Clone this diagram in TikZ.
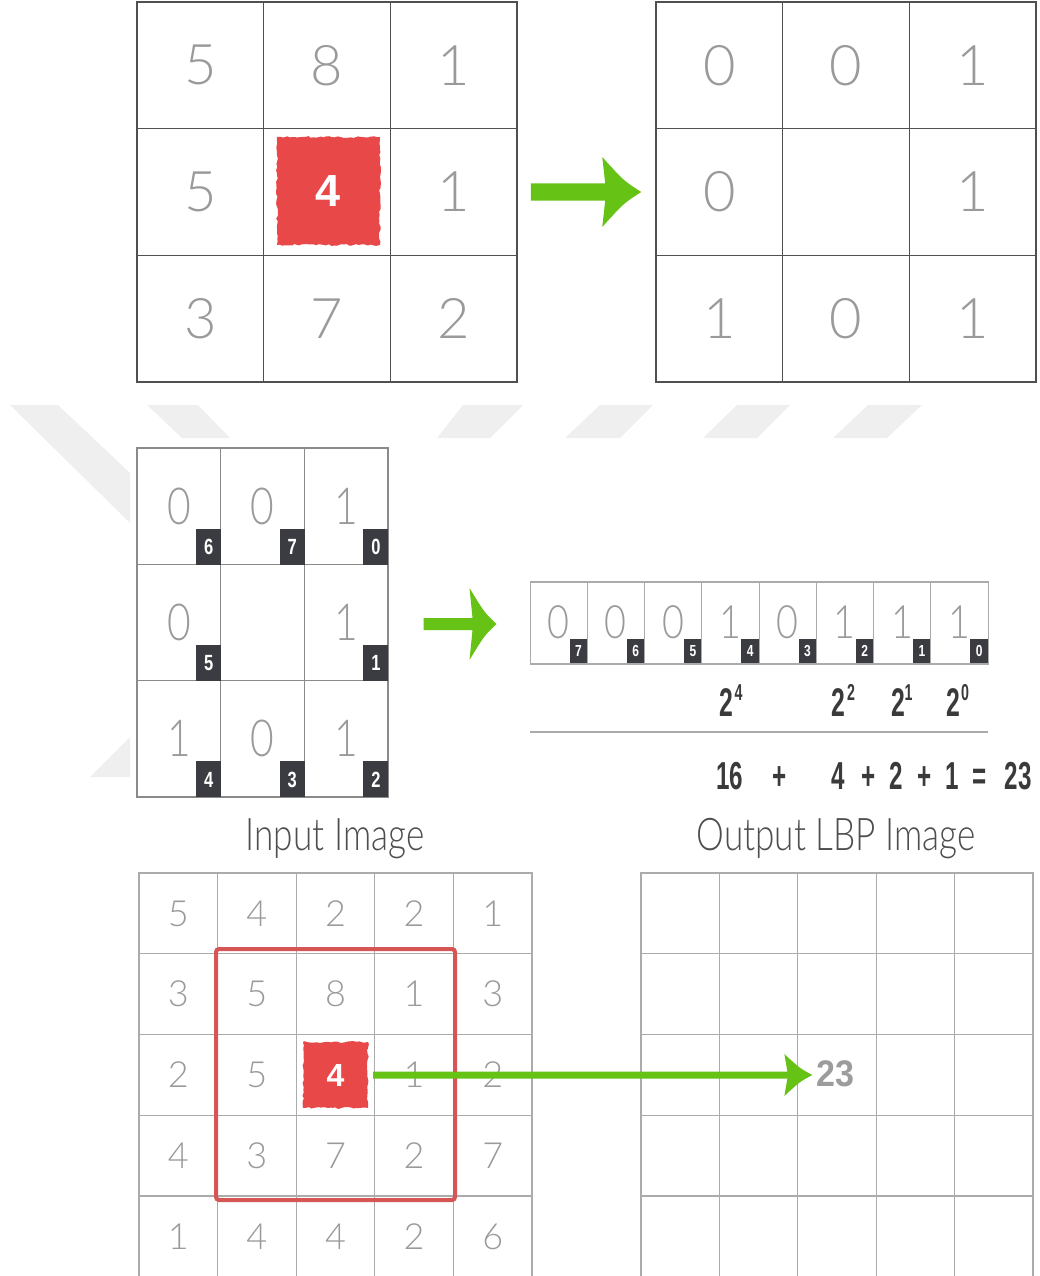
\documentclass[tikz,border=0pt]{standalone}
\usepackage{fontspec}
\setmainfont{Liberation Sans}
\IfFontExistsTF{Lato Light}{\newfontfamily\lightf{Lato Light}}{\newfontfamily\lightf{Liberation Sans}}
\usetikzlibrary{calc,decorations.pathmorphing}
\definecolor{wm}{HTML}{EFEFEF}
\definecolor{digit}{HTML}{9A9A9A}
\definecolor{gridA}{HTML}{505050}
\definecolor{gridB}{HTML}{8A8A8A}
\definecolor{gridC}{HTML}{ABABAB}
\definecolor{badgebg}{HTML}{3B3B42}
\definecolor{lbpgreen}{HTML}{66C214}
\definecolor{blotch}{HTML}{E84848}
\definecolor{framered}{HTML}{D65555}
\definecolor{darktxt}{HTML}{3A3A3A}
\definecolor{labeltxt}{HTML}{4E4E4E}
\definecolor{resgray}{HTML}{9C9C9C}
\newcommand\fs[1]{\fontsize{#1}{#1}\selectfont}
\newcommand\sx[2]{\scalebox{#1}[1]{#2}}
% green arrow: #1 start, #2 tip, #3 shaft half width, #4 head length, #5 head half width
\newcommand\garrow[5]{%
  \fill[lbpgreen]
    ($(#1)+(0,-#3)$) -- ($(#2)+(-#4+3,-#3)$) -- ($(#2)+(-#4,-#5)$)
    .. controls ($(#2)+(-0.45*#4,-0.32*#5)$) .. (#2)
    .. controls ($(#2)+(-0.45*#4,0.32*#5)$) .. ($(#2)+(-#4,#5)$)
    -- ($(#2)+(-#4+3,#3)$) -- ($(#1)+(0,#3)$) -- cycle;}
\tikzset{
  bigcell/.style={draw=gridA, line width=1.5pt, minimum width=126.67pt, minimum height=126.67pt,
    inner sep=0pt, text=digit, font={\lightf\fs{56}}},
  midcell/.style={draw=gridB, line width=1.3pt, minimum width=83.67pt, minimum height=116.33pt,
    inner sep=0pt, text=digit, font={\lightf\fs{51}}},
  bincell/.style={draw=gridC, line width=1pt, minimum width=57.25pt, minimum height=81pt,
    inner sep=0pt, text=digit, font={\lightf\fs{46}}},
  smallcell/.style={draw=gridC, line width=1.2pt, minimum width=78.6pt, minimum height=80.75pt,
    inner sep=0pt, text=digit, font={\lightf\fs{36}}},
  outcell/.style={draw=gridC, line width=1.2pt, minimum width=78.4pt, minimum height=80.75pt, inner sep=0pt},
  midbadge/.style={anchor=south east, fill=badgebg, text=white, inner sep=0pt,
    minimum width=25pt, minimum height=36pt, font={\fs{22}\bfseries}},
  binbadge/.style={anchor=south east, fill=badgebg, text=white, inner sep=0pt,
    minimum width=18pt, minimum height=24pt, font={\fs{16}\bfseries}},
  blotchsq/.style={fill=blotch, text=white, inner sep=0pt, decorate,
    decoration={random steps, segment length=3pt, amplitude=1pt}},
  powtxt/.style={anchor=base, text=darktxt, inner sep=0pt},
  captxt/.style={anchor=base, text=labeltxt, inner sep=0pt, font={\lightf\fs{45}}},
}
\begin{document}
\begin{tikzpicture}[x=1pt,y=-1pt]
\useasboundingbox (0,0) rectangle (1039,1276);
% watermark
\fill[wm] (10,405) -- (58,405) -- (130,473) -- (130,523) -- cycle;
\fill[wm] (147,405) -- (198,405) -- (230,438) -- (182,438) -- cycle;
\fill[wm] (463,405) -- (523,405) -- (490,438) -- (437,438) -- cycle;
\fill[wm] (600,405) -- (653,405) -- (620,438) -- (565,438) -- cycle;
\fill[wm] (737,405) -- (790,405) -- (757,438) -- (703,438) -- cycle;
\fill[wm] (868,405) -- (922,405) -- (887,438) -- (833,438) -- cycle;
\fill[wm] (90,777) -- (130,737) -- (130,777) -- cycle;

% top-left grid
\foreach \v [count=\k from 0] in {5,8,1,5,{},1,3,7,2}{
  \pgfmathtruncatemacro\r{div(\k,3)}
  \pgfmathtruncatemacro\c{mod(\k,3)}
  \node[bigcell] (tl-\r-\c) at ({200.33+126.67*\c},{65.33+126.67*\r}) {\v};
}
\node[blotchsq, minimum width=103pt, minimum height=108pt, font={\fs{45}\bfseries}] (c1) at (328.5,191) {4};

% top-right grid
\foreach \v [count=\k from 0] in {0,0,1,0,{},1,1,0,1}{
  \pgfmathtruncatemacro\r{div(\k,3)}
  \pgfmathtruncatemacro\c{mod(\k,3)}
  \node[bigcell] (tr-\r-\c) at ({719.33+126.67*\c},{65.33+126.67*\r}) {\v};
}

% middle-left grid
\foreach \v [count=\k from 0] in {0,0,1,0,{},1,1,0,1}{
  \pgfmathtruncatemacro\r{div(\k,3)}
  \pgfmathtruncatemacro\c{mod(\k,3)}
  \node[midcell] (ml-\r-\c) at ({178.83+83.67*\c},{506.17+116.33*\r}) {\sx{0.8}{\v}};
}
\foreach \r/\c/\b in {0/0/6,0/1/7,0/2/0,1/0/5,1/2/1,2/0/4,2/1/3,2/2/2}{
  \node[midbadge] (mb-\r-\c) at (ml-\r-\c.south east) {\sx{0.75}{\b}};
}

% binary row
\foreach \v/\b [count=\k from 0] in {0/7,0/6,0/5,1/4,0/3,1/2,1/1,1/0}{
  \node[bincell] (bin-\k) at ({558.63+57.25*\k},622.5) {\sx{0.82}{\v}};
  \node[binbadge] (bb-\k) at (bin-\k.south east) {\sx{0.75}{\b}};
}
\draw[gridC, line width=2pt] (bin-0.north west) -- (bin-7.north east);
\draw[gridC, line width=2pt] (bin-0.south west) -- (bin-7.south east);

% powers
\node[powtxt, font={\fs{40}\bfseries}] (p4) at (726,716) {\sx{0.62}{2}};
\node[powtxt, font={\fs{23}\bfseries}] (p4e) at (738.5,700) {\sx{0.62}{4}};
\node[powtxt, font={\fs{40}\bfseries}] (p2) at (838.5,716) {\sx{0.62}{2}};
\node[powtxt, font={\fs{23}\bfseries}] (p2e) at (851,700) {\sx{0.62}{2}};
\node[powtxt, font={\fs{40}\bfseries}] (p1) at (898.5,716) {\sx{0.62}{2}};
\node[powtxt, font={\fs{23}\bfseries}] (p1e) at (908.5,700) {\sx{0.62}{1}};
\node[powtxt, font={\fs{40}\bfseries}] (p0) at (953.5,716) {\sx{0.62}{2}};
\node[powtxt, font={\fs{23}\bfseries}] (p0e) at (965,700) {\sx{0.62}{0}};
\draw[gridC, line width=2pt] (530,732) -- (988,732);

% sum
\node[powtxt, font={\fs{39}\bfseries}] (s1) at (729.5,789) {\sx{0.62}{16}};
\node[powtxt, font={\fs{39}\bfseries}] (s2) at (780,789) {\sx{0.62}{+}};
\node[powtxt, font={\fs{39}\bfseries}] (s3) at (838.5,789) {\sx{0.62}{4}};
\node[powtxt, font={\fs{39}\bfseries}] (s4) at (869,789) {\sx{0.62}{+}};
\node[powtxt, font={\fs{39}\bfseries}] (s5) at (896.5,789) {\sx{0.62}{2}};
\node[powtxt, font={\fs{39}\bfseries}] (s6) at (925,789) {\sx{0.62}{+}};
\node[powtxt, font={\fs{39}\bfseries}] (s7) at (952,789) {\sx{0.62}{1}};
\node[powtxt, font={\fs{39}\bfseries}] (s8) at (979.5,789) {\sx{0.62}{=}};
\node[powtxt, font={\fs{39}\bfseries}] (s9) at (1018,789) {\sx{0.62}{23}};

% captions
\node[captxt] (lin) at (335,850) {\sx{0.78}{Input Image}};
\node[captxt] (lout) at (836,850) {\sx{0.78}{Output LBP Image}};

% bottom-left grid
\foreach \v [count=\k from 0] in {5,4,2,2,1,3,5,8,1,3,2,5,{},1,2,4,3,7,2,7,1,4,4,2,6}{
  \pgfmathtruncatemacro\r{div(\k,5)}
  \pgfmathtruncatemacro\c{mod(\k,5)}
  \node[smallcell] (bl-\r-\c) at ({178.3+78.6*\c},{913.4+80.75*\r}) {\v};
}
\node[blotchsq, minimum width=65pt, minimum height=66pt, font={\fs{32}\bfseries}] (c2) at (335.5,1075) {4};
\draw[framered, line width=4pt, rounded corners=3pt] (216,949) rectangle (455,1200);

% bottom-right grid
\foreach \k in {0,...,24}{
  \pgfmathtruncatemacro\r{div(\k,5)}
  \pgfmathtruncatemacro\c{mod(\k,5)}
  \node[outcell] (br-\r-\c) at ({680.2+78.4*\c},{913.4+80.75*\r}) {};
}
\node[text=resgray, inner sep=0pt, font={\fs{37}\bfseries}] (v23) at (835.5,1074) {\sx{0.92}{23}};

% arrows
\coordinate (a1s) at ($(tl-1-2.east)+(13,0)$);
\coordinate (a1t) at ($(tr-1-0.west)+(-14,0)$);
\garrow{a1s}{a1t}{8.5}{39}{35}
\coordinate (a2s) at ($(ml-1-2.east)+(35,1.5)$);
\coordinate (a2t) at ($(bin-0.west)+(-33,1.5)$);
\garrow{a2s}{a2t}{6}{27}{36}
\coordinate (a3s) at ($(c2.east)+(5,0)$);
\coordinate (a3t) at ($(v23.west)+(-4,1)$);
\garrow{a3s}{a3t}{3.5}{28}{21}
\end{tikzpicture}
\end{document}
